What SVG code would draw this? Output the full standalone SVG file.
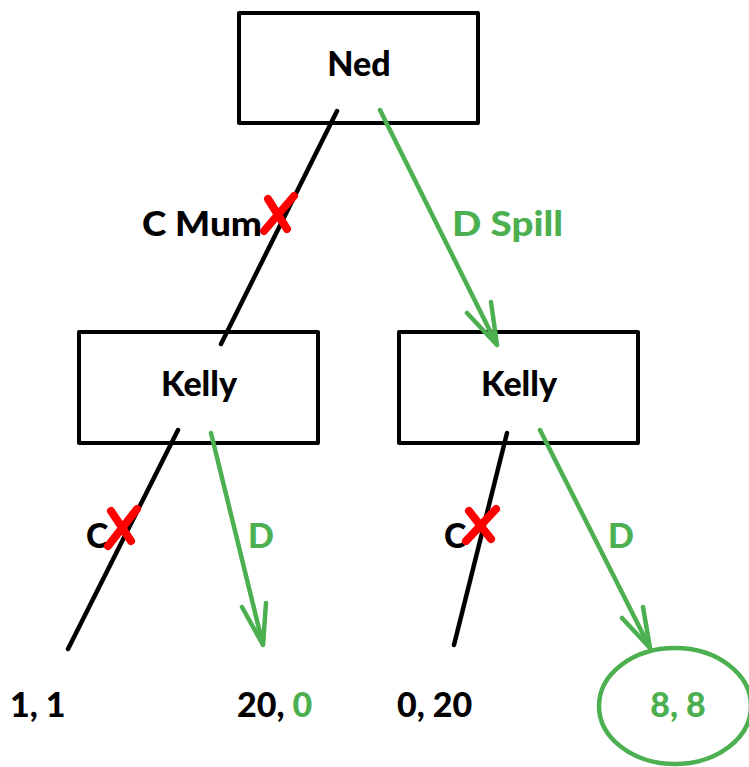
<svg xmlns="http://www.w3.org/2000/svg" width="749" height="767" viewBox="0 0 749 767">
<style>
.box{fill:#fff;stroke:#000;stroke-width:4;stroke-linejoin:round}
.t{font-family:Lato,"Open Sans","Liberation Sans",sans-serif;font-weight:900;font-size:34px;fill:#000}
.g{fill:#4caf50}
.bl{stroke:#000;stroke-width:4.5;stroke-linecap:round;fill:none}
.gl{stroke:#4caf50;stroke-width:4.5;stroke-linecap:round;stroke-linejoin:round;fill:none}
.x{stroke:#ff0000;stroke-width:8;stroke-linecap:round;fill:none}
</style>
<rect width="749" height="767" fill="#fff"/>
<g id="ned"><rect class="box" x="239" y="13" width="239" height="110"/><text class="t" x="359" y="76" text-anchor="middle">Ned</text></g>
<g id="kelly1"><rect class="box" x="79" y="332" width="239" height="111"/><text class="t" x="199" y="396" text-anchor="middle">Kelly</text></g>
<g id="kelly2"><rect class="box" x="399" y="332" width="239" height="111"/><text class="t" x="519" y="396" text-anchor="middle">Kelly</text></g>
<g id="connectors">
<line class="bl" x1="337" y1="111" x2="221" y2="344"/>
<path class="gl" d="M380 110 L497 345 M467 313 L497 345 L491 302"/>
<line class="bl" x1="178" y1="430" x2="68" y2="649"/>
<path class="gl" d="M211 433 L263 645 M242 607 L263 645 L266 603"/>
<line class="bl" x1="507" y1="433" x2="454" y2="645"/>
<path class="gl" d="M540 430 L650 648 M622 618 L650 648 L643 607"/>
</g>
<g id="labels">
<text class="t" x="142" y="236" textLength="120" lengthAdjust="spacingAndGlyphs">C Mum</text>
<text class="t g" x="452" y="236" textLength="111" lengthAdjust="spacingAndGlyphs">D Spill</text>
<text class="t" x="86" y="548">C</text>
<text class="t g" x="248" y="548">D</text>
<text class="t" x="444" y="548">C</text>
<text class="t g" x="608" y="548">D</text>
</g>
<g id="crosses">
<path class="x" d="M264 231 L294 196 M268 199 L287 229"/>
<path class="x" d="M108 546 L137 509 M111 511 L131 541"/>
<path class="x" d="M466 541 L496 509 M469 511 L491 539"/>
</g>
<g id="payoffs">
<text class="t" x="10" y="717">1, 1</text>
<text class="t" x="237" y="717">20, <tspan class="g">0</tspan></text>
<text class="t" x="397" y="717">0, 20</text>
<g id="outcome"><ellipse cx="675" cy="706" rx="76" ry="58" fill="none" stroke="#4caf50" stroke-width="4.5"/><text class="t g" x="678" y="717" text-anchor="middle">8, 8</text></g>
</g>
</svg>
